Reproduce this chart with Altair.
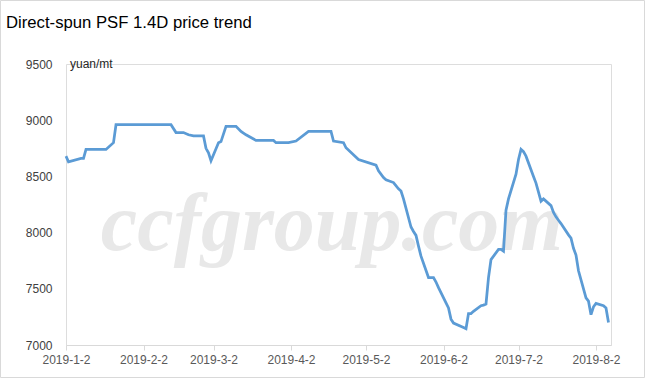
import altair as alt
import pandas as pd

# ---- data ----
dates = [
    "2019/01/02", "2019/01/03", "2019/01/08", "2019/01/09", "2019/01/10", "2019/01/18",
    "2019/01/21", "2019/01/22", "2019/02/13", "2019/02/15", "2019/02/18", "2019/02/20",
    "2019/02/22", "2019/02/26", "2019/02/27", "2019/02/28", "2019/03/01", "2019/03/04",
    "2019/03/05", "2019/03/07", "2019/03/11", "2019/03/13", "2019/03/15", "2019/03/19",
    "2019/03/26", "2019/03/27", "2019/04/01", "2019/04/04", "2019/04/09", "2019/04/18",
    "2019/04/19", "2019/04/23", "2019/04/24", "2019/04/29", "2019/05/06", "2019/05/07",
    "2019/05/09", "2019/05/10", "2019/05/13", "2019/05/15", "2019/05/16", "2019/05/17",
    "2019/05/20", "2019/05/21", "2019/05/22", "2019/05/23", "2019/05/24", "2019/05/27",
    "2019/05/28", "2019/05/29", "2019/05/30", "2019/05/31", "2019/06/03", "2019/06/04",
    "2019/06/05", "2019/06/06", "2019/06/10", "2019/06/11", "2019/06/12", "2019/06/13",
    "2019/06/14", "2019/06/17", "2019/06/18", "2019/06/19", "2019/06/20", "2019/06/21",
    "2019/06/24", "2019/06/25", "2019/06/26", "2019/06/27", "2019/06/28", "2019/07/01",
    "2019/07/02", "2019/07/03", "2019/07/04", "2019/07/05", "2019/07/08", "2019/07/09",
    "2019/07/10", "2019/07/11", "2019/07/12", "2019/07/15", "2019/07/16", "2019/07/17",
    "2019/07/18", "2019/07/19", "2019/07/22", "2019/07/23", "2019/07/24", "2019/07/25",
    "2019/07/26", "2019/07/29", "2019/07/30", "2019/07/31", "2019/08/01", "2019/08/02",
    "2019/08/05", "2019/08/06", "2019/08/07",
]
prices = [
    8680, 8630, 8660, 8660, 8740, 8740,
    8800, 8960, 8960, 8890, 8890, 8870,
    8860, 8860, 8750, 8710, 8640, 8800,
    8810, 8945, 8945, 8900, 8870, 8820,
    8820, 8800, 8800, 8815, 8900, 8900,
    8815, 8800, 8755, 8650, 8600, 8550,
    8490, 8470, 8445, 8390, 8370, 8300,
    8050, 8010, 7975, 7880, 7790, 7600,
    7600, 7600, 7560, 7510, 7375, 7330,
    7230, 7195, 7155, 7145, 7280, 7280,
    7300, 7350, 7355, 7365, 7600, 7760,
    7850, 7850, 7835, 8200, 8300, 8520,
    8650, 8740, 8720, 8680, 8500, 8440,
    8360, 8280, 8300, 8240, 8180, 8140,
    8110, 8080, 7980, 7950, 7860, 7800,
    7660, 7420, 7390, 7270, 7340, 7370,
    7350, 7330, 7200,
]
title_text = "Direct-spun PSF 1.4D price trend"
unit_text = "yuan/mt"
watermark_text = "ccfgroup.com"
y_ticks = [7000, 7500, 8000, 8500, 9000, 9500]
x_tick_months = [1, 2, 3, 4, 5, 6, 7, 8]

df = pd.DataFrame({"date": dates, "price": prices})

PW, PH = 545, 281
FONT = "Liberation Sans"

x_enc = alt.X(
    "date:T",
    scale=alt.Scale(domain=[alt.DateTime(year=2019, month=1, date=2),
                            alt.DateTime(year=2019, month=8, date=8)]),
    axis=alt.Axis(
        values=[alt.DateTime(year=2019, month=m, date=2) for m in x_tick_months],
        format="%Y-%-m-%-d", title=None, grid=False,
        domainColor="#D9D9D9", tickColor="#D9D9D9", tickSize=5,
        labelColor="#595959", labelFontSize=12, labelFont=FONT,
        labelPadding=4, labelFlush=False, labelOverlap=False,
    ),
)
y_enc = alt.Y(
    "price:Q",
    scale=alt.Scale(domain=[7000, 9500], nice=False, zero=False),
    axis=alt.Axis(
        values=y_ticks, format="d", title=None, grid=False, domain=False, ticks=False,
        labelPadding=14, labelColor="#404040", labelFontSize=12, labelFont=FONT,
        labelFlush=False,
    ),
)

watermark = alt.Chart(alt.Data(values=[{"t": watermark_text}])).mark_text(
    font="Liberation Serif", fontStyle="italic", fontWeight="bold", fontSize=82,
    color="#E8E8E8", align="center", baseline="alphabetic",
).encode(x=alt.value(266), y=alt.value(186), text="t:N")

border = alt.Chart(alt.Data(values=[{}])).mark_rect(
    fill="transparent", stroke="#D9D9D9", strokeWidth=1,
).encode(x=alt.value(-65.5), x2=alt.value(578.5), y=alt.value(-63.5), y2=alt.value(313.5))

title = alt.Chart(alt.Data(values=[{"t": title_text}])).mark_text(
    align="left", baseline="alphabetic", fontSize=16.7, font=FONT, color="#000000",
).encode(x=alt.value(-60), y=alt.value(-36), text="t:N")

line = alt.Chart(df).mark_line(color="#5B9BD5", strokeWidth=2.75).encode(x=x_enc, y=y_enc)

unit = alt.Chart(alt.Data(values=[{"date": dates[0], "price": y_ticks[-1], "t": unit_text}])).mark_text(
    align="left", baseline="middle", dx=4, fontSize=12, font=FONT, color="#262626",
).encode(x=alt.X("date:T"), y=alt.Y("price:Q"), text="t:N")

chart = alt.layer(watermark, border, title, line, unit).properties(
    width=PW, height=PH,
    padding={"left": 66, "top": 64, "right": 34, "bottom": 33},
    autosize=alt.AutoSizeParams(type="none"),
).configure_view(stroke=None).configure(background="white")

chart.save("out.html", embed_options={"renderer": "svg", "actions": False})
